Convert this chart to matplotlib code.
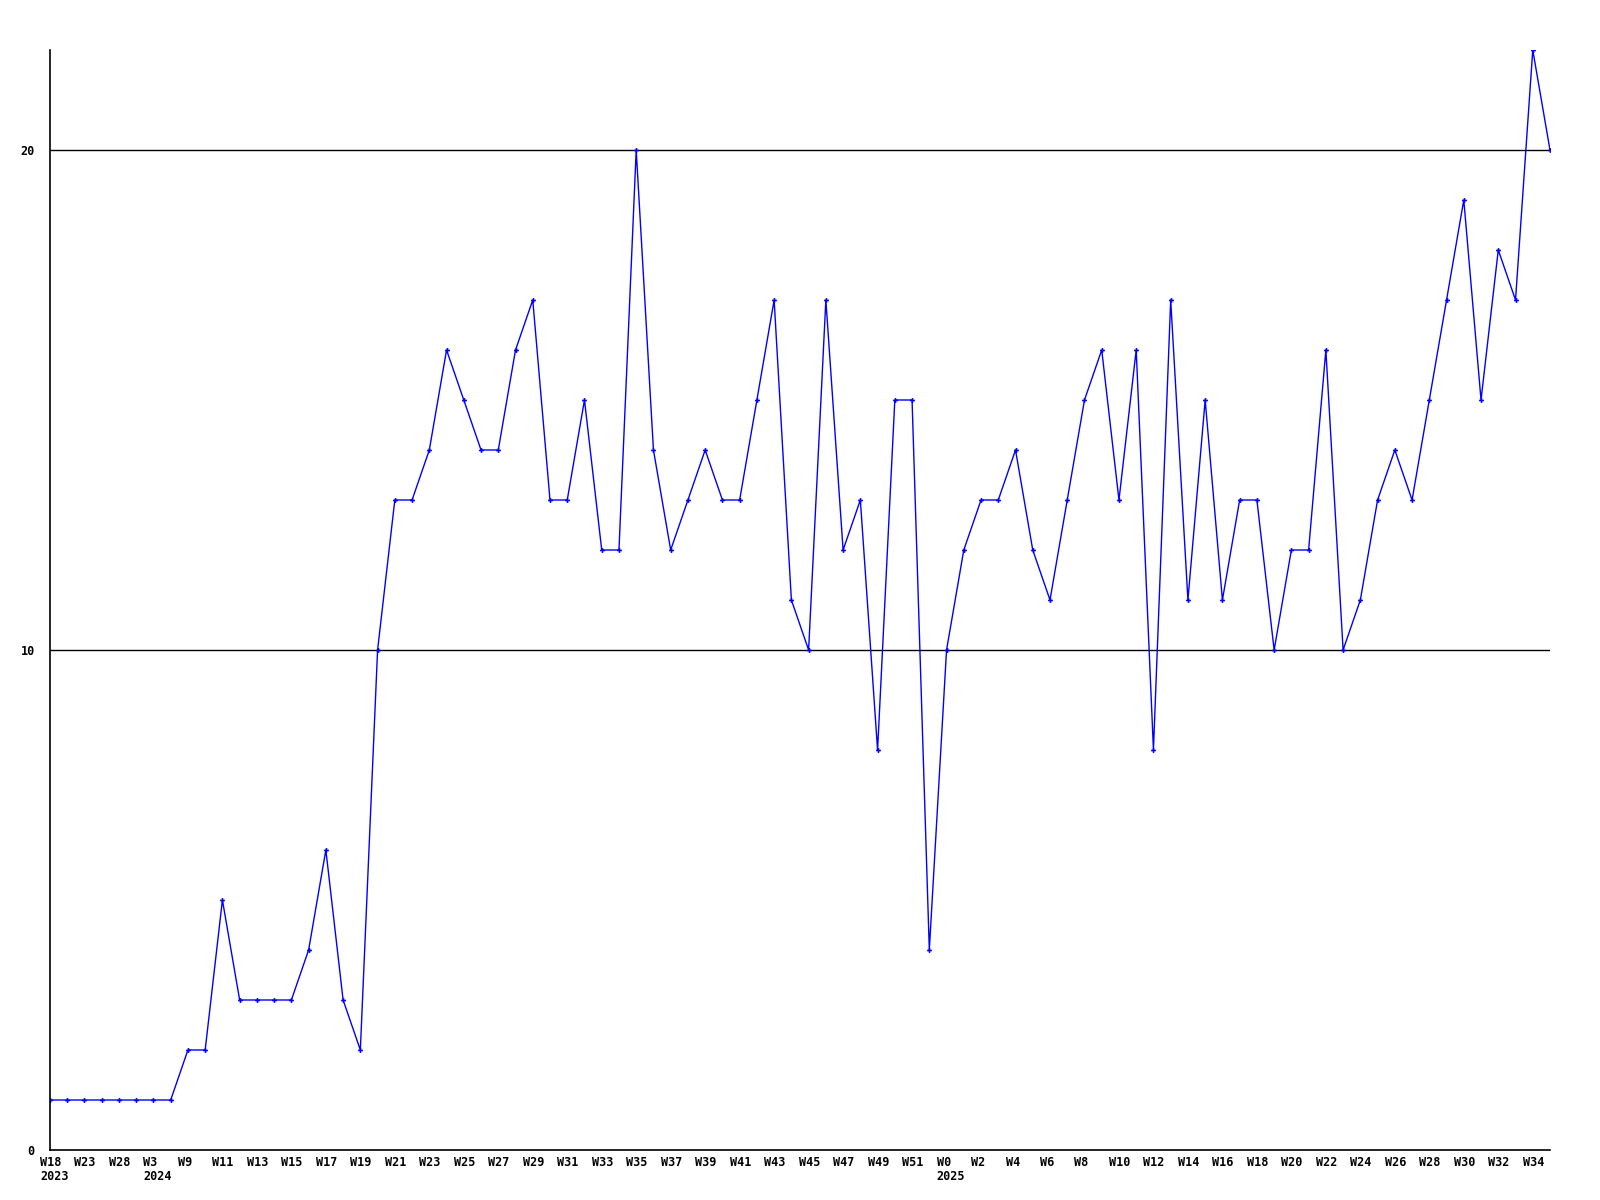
import matplotlib
matplotlib.use("Agg")
import matplotlib.pyplot as plt
import matplotlib.transforms as mtransforms

# week labels (first few points are sparse samples from 2023)
weeks = ["W18", "W20", "W23", "W25", "W28", "W45", "W3", "W6"] + \
        ["W%d" % w for w in range(9, 53)] + \
        ["W%d" % w for w in range(0, 36)]
years = {0: "2023", 6: "2024", 52: "2025"}

values = [1, 1, 1, 1, 1, 1, 1, 1, 2, 2,
          5, 3, 3, 3, 3, 4, 6, 3, 2, 10,
          13, 13, 14, 16, 15, 14, 14, 16, 17, 13,
          13, 15, 12, 12, 20, 14, 12, 13, 14, 13,
          13, 15, 17, 11, 10, 17, 12, 13, 8, 15,
          15, 4, 10, 12, 13, 13, 14, 12, 11, 13,
          15, 16, 13, 16, 8, 17, 11, 15, 11, 13,
          13, 10, 12, 12, 16, 10, 11, 13, 14, 13,
          15, 17, 19, 15, 18, 17, 22, 20]

x = list(range(len(values)))

fig = plt.figure(figsize=(16, 12), dpi=100)
ax = fig.add_axes([50/1600, 50/1200, 1500/1600, 1100/1200])

ax.plot(x, values, color="#0000ff", linewidth=1, marker="P", markersize=3.5,
        markeredgewidth=0)

for yv in (10, 20):
    ax.axhline(yv, color="black", linewidth=1, zorder=0)

ax.set_xlim(0, len(values) - 1)
ax.set_ylim(0, 22)

for s in ("top", "right"):
    ax.spines[s].set_visible(False)
for s in ("left", "bottom"):
    ax.spines[s].set_linewidth(1.2)

font = dict(family="DejaVu Sans Mono", weight="bold", size=8.5)

# x labels: every second week, left-aligned a bit before the point
ax.set_xticks(x[::2])
ax.set_xticklabels([])
offset = mtransforms.ScaledTranslation(-10/100, -6/100, fig.dpi_scale_trans)
trans = ax.get_xaxis_transform() + offset
for i in x[::2]:
    lab = weeks[i]
    if i in years:
        lab += "\n" + years[i]
    ax.text(i, 0, lab, transform=trans, ha="left", va="top",
            linespacing=1.15, clip_on=False, **font)

ax.set_yticks([0, 10, 20])
ax.set_yticklabels(["0", "10", "20"], **font)
ax.tick_params(axis="both", length=0)
ax.tick_params(axis="y", pad=11)

fig.savefig("out.png", dpi=100)
